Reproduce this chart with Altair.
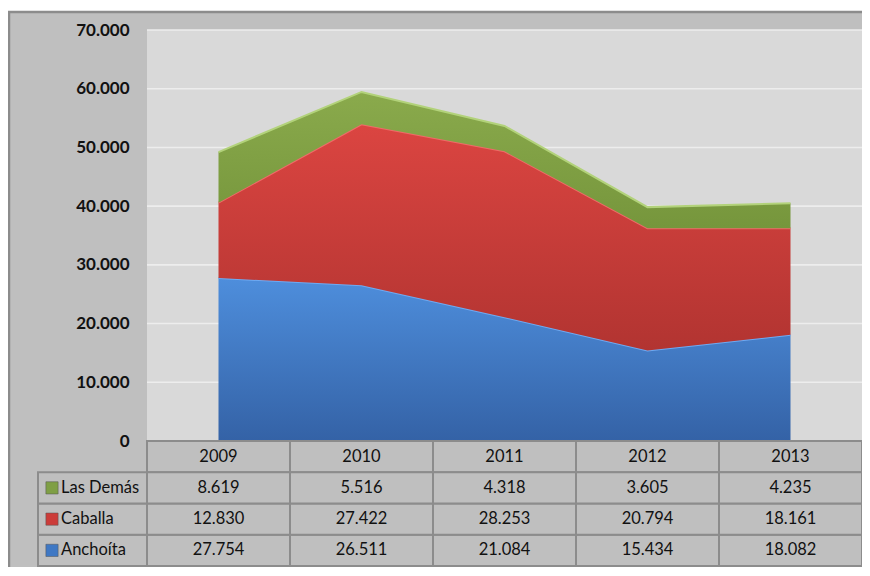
import altair as alt
import pandas as pd

years = [2009, 2010, 2011, 2012, 2013]
series = ["Anchoíta", "Caballa", "Las Demás"]
anchoita = [27754, 26511, 21084, 15434, 18082]
caballa = [12830, 27422, 28253, 20794, 18161]
las_demas = [8619, 5516, 4318, 3605, 4235]
y_ticks = [0, 10000, 20000, 30000, 40000, 50000, 60000, 70000]

values = {"Anchoíta": anchoita, "Caballa": caballa, "Las Demás": las_demas}
order = {"Anchoíta": 0, "Caballa": 1, "Las Demás": 2}

rows = []
for s in series:
    for yr, v in zip(years, values[s]):
        rows.append({"year": yr, "series": s, "value": v, "order": order[s]})
df = pd.DataFrame(rows)

W, H = 715, 411
FONT = "Lato"

x_scale = alt.Scale(domain=[2008.5, 2013.5], nice=False, zero=False)
y_scale = alt.Scale(domain=[0, 70000], nice=False)

gradients = {
    "Anchoíta": ("#4E8EDC", "#3462A6"),
    "Caballa": ("#DB4541", "#B23431"),
    "Las Demás": ("#8AAA4C", "#76963C"),
}
highlights = {"Anchoíta": "#6FAAF2", "Caballa": "#F06A68", "Las Demás": "#B2D27A"}
solid = {"Anchoíta": "#3F78C4", "Caballa": "#CC3C39", "Las Demás": "#7F9F45"}

base = alt.Chart(df)

one = pd.DataFrame({"k": [0]})
top_strip = alt.Chart(one).mark_rect(fill="white").encode(
    x=alt.value(-140), x2=alt.value(W + 20), y=alt.value(-30), y2=alt.value(-18)
)
frame = alt.Chart(one).mark_rect(fill=None, stroke="#8C8C8C", strokeWidth=2.5).encode(
    x=alt.value(-138), x2=alt.value(W + 40), y=alt.value(-18), y2=alt.value(H + 200)
)

grid_layer = alt.Chart(pd.DataFrame({"t": y_ticks})).mark_rule(
    color="#EDEDED", strokeWidth=1.6
).encode(
    y=alt.Y("t:Q", scale=y_scale, axis=None),
    x=alt.value(0), x2=alt.value(W),
)

area_layers = []
for s in series:
    top, bot = gradients[s]
    stacked = base.transform_stack(
        stack="value", groupby=["year"], as_=["y0", "y1"],
        sort=[alt.SortField("order", order="ascending")]
    ).transform_filter(alt.datum.series == s)
    area = stacked.mark_area(
        color=alt.Gradient(
            gradient="linear",
            stops=[alt.GradientStop(color=top, offset=0), alt.GradientStop(color=bot, offset=1)],
            x1=0, x2=0, y1=0, y2=1,
        ),
        interpolate="linear",
    ).encode(
        x=alt.X("year:Q", scale=x_scale, axis=None),
        y=alt.Y("y1:Q", scale=y_scale, axis=None),
        y2="y0:Q",
    )
    edge = stacked.mark_line(color=highlights[s], strokeWidth=2).encode(
        x=alt.X("year:Q", scale=x_scale, axis=None),
        y=alt.Y("y1:Q", scale=y_scale, axis=None),
    )
    area_layers += [area, edge]

y_axis_layer = alt.Chart(pd.DataFrame({"t": y_ticks})).mark_point(opacity=0).encode(
    y=alt.Y(
        "t:Q", scale=y_scale,
        axis=alt.Axis(
            values=y_ticks, grid=False, domain=False, ticks=False, title=None,
            labelFont=FONT, labelFontSize=17, labelFontWeight="bold", labelColor="#111111",
            labelPadding=18,
            labelExpr="replace(format(datum.value, ',d'), ',', '.')",
        ),
    ),
)

row_domain = ["hdr", "Las Demás", "Caballa", "Anchoíta"]
row_scale = alt.Scale(type="band", domain=row_domain, range=[H, H + 125], paddingInner=0, paddingOuter=0)

table_rows = []
for yr in years:
    table_rows.append({"year": yr, "row": "hdr", "label": str(yr)})
    for s in series:
        v = values[s][years.index(yr)]
        table_rows.append({"year": yr, "row": s, "label": f"{v:,}".replace(",", ".")})
tdf = pd.DataFrame(table_rows)

tbase = alt.Chart(tdf).transform_calculate(x0="datum.year - 0.5", x1="datum.year + 0.5")
cells = tbase.mark_rect(fill="#BFBFBF", stroke="#8C8C8C", strokeWidth=2).encode(
    x=alt.X("x0:Q", scale=x_scale, axis=None),
    x2="x1:Q",
    y=alt.Y("row:N", scale=row_scale, axis=None),
)
cell_text = tbase.mark_text(font=FONT, fontSize=16.5, color="#111111", baseline="middle").encode(
    x=alt.X("year:Q", scale=x_scale, axis=None),
    y=alt.Y("row:N", scale=row_scale, axis=None),
    text="label:N",
)

ldf = pd.DataFrame({"row": series})
leg_cells = alt.Chart(ldf).mark_rect(fill="#BFBFBF", stroke="#8C8C8C", strokeWidth=2).encode(
    x=alt.value(-109), x2=alt.value(0),
    y=alt.Y("row:N", scale=row_scale, axis=None),
)
leg_icons = alt.Chart(ldf).mark_square(size=150, opacity=1, stroke="#555555", strokeWidth=0.5).encode(
    x=alt.value(-95),
    y=alt.Y("row:N", scale=row_scale, axis=None),
    color=alt.Color("row:N", scale=alt.Scale(domain=series, range=[solid[s] for s in series]), legend=None),
)
leg_text = alt.Chart(ldf).mark_text(font=FONT, fontSize=16.5, color="#111111", align="left", baseline="middle").encode(
    x=alt.value(-86),
    y=alt.Y("row:N", scale=row_scale, axis=None),
    text="row:N",
)

chart = alt.layer(
    top_strip, frame, grid_layer, *area_layers, y_axis_layer,
    cells, cell_text, leg_cells, leg_icons, leg_text,
).resolve_scale(y="independent").properties(
    width=W, height=H,
    autosize=alt.AutoSizeParams(type="none"),
    padding={"left": 139, "top": 22, "right": 0, "bottom": 126},
    background="#BFBFBF",
).configure_view(fill="#D9D9D9", stroke=None)

chart.save("out.html", embed_options={"renderer": "svg", "actions": False})
